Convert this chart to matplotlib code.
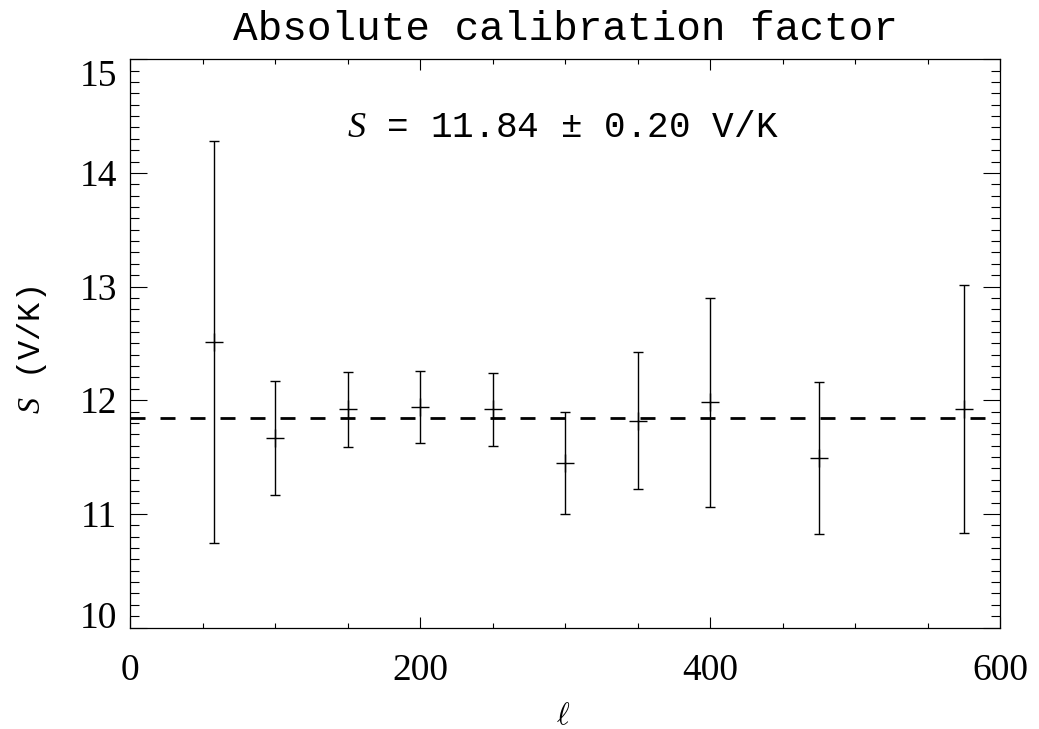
import matplotlib
matplotlib.use('Agg')
import matplotlib.pyplot as plt
from matplotlib.ticker import MultipleLocator

# ---- data ----
ell = [58, 100, 150, 200, 250, 300, 350, 400, 475, 575]
S_vals = [12.51, 11.67, 11.92, 11.94, 11.92, 11.45, 11.82, 11.98, 11.49, 11.92]
S_err = [1.77, 0.50, 0.33, 0.32, 0.32, 0.45, 0.60, 0.92, 0.67, 1.09]
S_mean = 11.84
S_mean_err = 0.20
x_ticks = [0, 200, 400, 600]
y_ticks = [10, 11, 12, 13, 14, 15]
title = 'Absolute calibration factor'
ylabel = '$S$ (V/K)'
xlabel = r'$\ell$'
annot = '$S$ = %.2f ± %.2f V/K' % (S_mean, S_mean_err)

plt.rcParams['mathtext.fontset'] = 'custom'
plt.rcParams['mathtext.it'] = 'Liberation Serif:italic'
plt.rcParams['mathtext.rm'] = 'Liberation Mono'

fig = plt.figure(figsize=(10.39, 7.29), dpi=100)
ax = fig.add_axes([0.1254, 0.1392, 0.8371, 0.7795])

ax.errorbar(ell, S_vals, yerr=S_err, fmt='+', color='black', ms=13, mew=1.0,
            elinewidth=1.0, capsize=3.3, capthick=1.0)
ax.axhline(S_mean, color='black', lw=2.0, ls=(0, (5.4, 5.4)))

ax.set_xlim(0, 600)
ax.set_ylim(10, 15)
ax.set_xticks(x_ticks)
ax.set_yticks(y_ticks)
ax.xaxis.set_minor_locator(MultipleLocator(50))
ax.yaxis.set_minor_locator(MultipleLocator(0.1))

ax.tick_params(axis='x', which='major', direction='in', length=7.7, width=0.8,
               top=True, bottom=True, pad=19)
ax.tick_params(axis='x', which='minor', direction='in', length=3.6, width=0.8,
               top=True, bottom=True)
ax.tick_params(axis='y', which='major', direction='in', length=12.2, width=0.8,
               left=True, right=True, pad=9.4)
ax.tick_params(axis='y', which='minor', direction='in', length=6.2, width=0.8,
               left=True, right=True)
for sp in ax.spines.values():
    sp.set_linewidth(0.9)

for lab in ax.get_xticklabels() + ax.get_yticklabels():
    lab.set_fontfamily('Liberation Serif')
    lab.set_fontsize(27)
ylabs = ax.get_yticklabels()
ylabs[0].set_va('baseline')
ylabs[-1].set_va('top')

ax.set_title(title, fontfamily='Liberation Mono', fontsize=29.5, pad=13.7)
ax.text(0.498, 0.864, annot, transform=ax.transAxes, ha='center', va='baseline',
        fontfamily='Liberation Mono', fontsize=26)
ax.set_ylabel(ylabel, fontfamily='Liberation Mono', fontsize=23, va='center')
ax.yaxis.set_label_coords(-0.113, 0.488)
ax.set_xlabel(xlabel, fontsize=22, math_fontfamily='cm', va='baseline')
ax.xaxis.set_label_coords(0.4975, -0.17)

fig.savefig('out.png', dpi=100)
